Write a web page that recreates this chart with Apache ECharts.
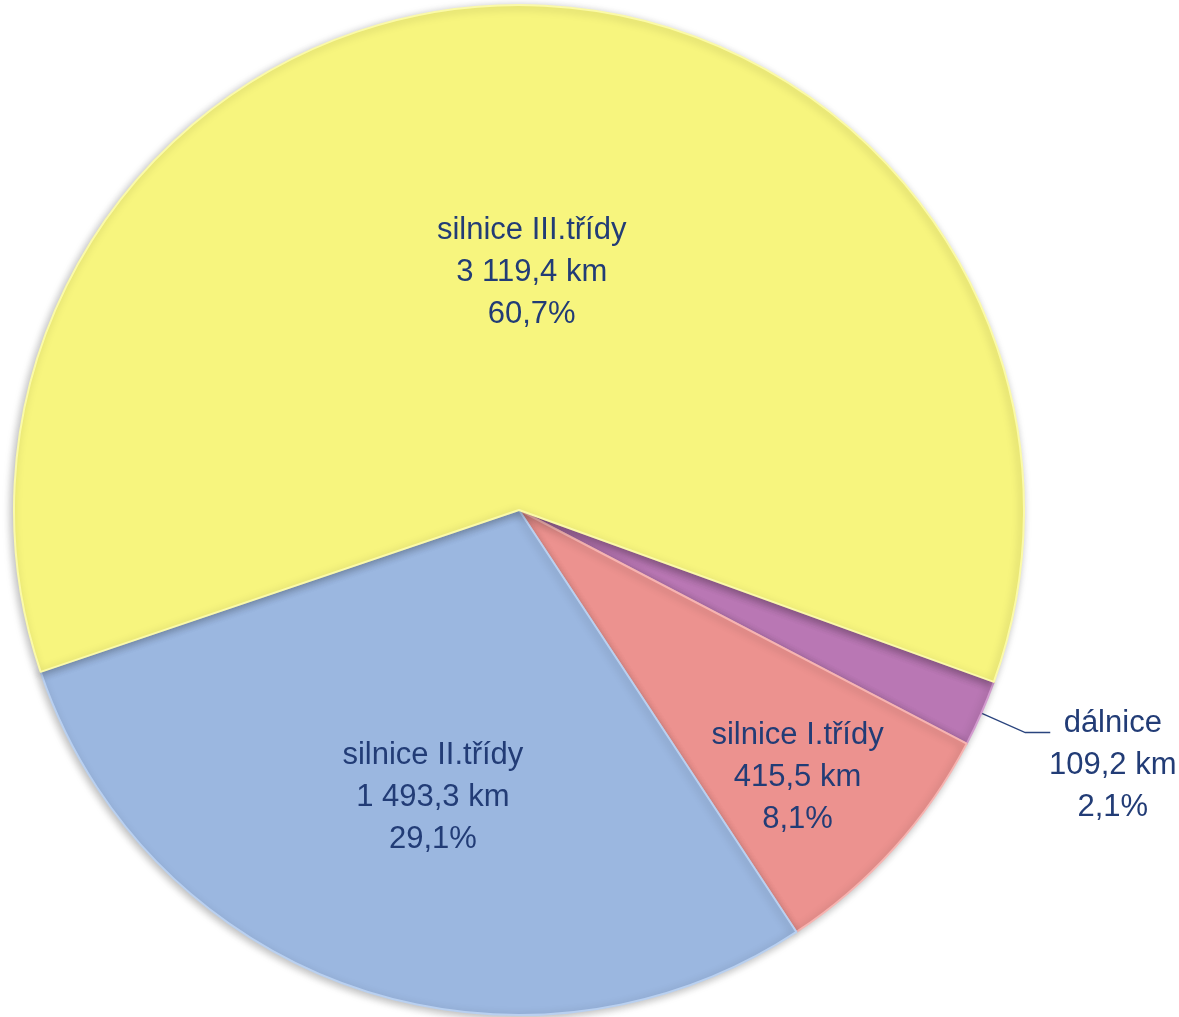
<!DOCTYPE html>
<html>
<head>
<meta charset="utf-8">
<script src="https://cdn.jsdelivr.net/npm/echarts@6/dist/echarts.min.js"></script>
<style>html,body{margin:0;padding:0;background:#fff}#c{width:1179px;height:1017px}</style>
</head>
<body>
<div id="c"></div>
<script>
const categories = ['dálnice', 'silnice I.třídy', 'silnice II.třídy', 'silnice III.třídy'];
const lengthsKm = [109.2, 415.5, 1493.3, 3119.4];
const percentLabels = ['2,1%', '8,1%', '29,1%', '60,7%'];
const kmLabels = ['109,2 km', '415,5 km', '1 493,3 km', '3 119,4 km'];

const colors = ['#B977B4', '#EC928F', '#9BB7E0', '#F7F57E'];
const borders = ['#D39BCF', '#F7B4B1', '#B9D0F0', '#FBFAA8'];
const labelShift = [[0, 0], [89, 96], [-3, 46], [10, 18]];

const FONT = '"Liberation Sans", Arial, sans-serif';
const FS = 31;
const TXT = '#223C76';

const chart = echarts.init(document.getElementById('c'), null, {renderer: 'canvas'});
const data = categories.map((name, i) => {
  const item = {
    name: name,
    value: lengthsKm[i],
    itemStyle: {color: colors[i], borderColor: borders[i]}
  };
  if (i === 0) {
    item.label = {
      position: 'outside',
      formatter: () => '{a|' + name + '}\n{a|' + kmLabels[i] + '}\n{a|' + percentLabels[i] + '}',
      padding: [66, 0, 0, 0],
      distanceToLabelLine: 0,
      rich: {a: {width: 125, align: 'center', fontSize: FS, lineHeight: 42, color: TXT, fontFamily: FONT}}
    };
    item.labelLine = {show: true, length: 48, length2: 25, lineStyle: {color: '#2A447E', width: 1.3}};
  }
  return item;
});

chart.setOption({
  animation: false,
  series: [{
    type: 'pie',
    center: [519, 510],
    radius: [0, 505],
    startAngle: -19.9,
    clockwise: true,
    avoidLabelOverlap: false,
    data: data,
    itemStyle: {
      borderWidth: 2,
      shadowBlur: 8,
      shadowColor: 'rgba(0,0,0,0.28)',
      shadowOffsetX: -2,
      shadowOffsetY: 2
    },
    label: {
      show: true,
      position: 'inside',
      formatter: p => p.name + '\n' + kmLabels[p.dataIndex] + '\n' + percentLabels[p.dataIndex],
      fontSize: FS,
      lineHeight: 42,
      color: TXT,
      fontFamily: FONT,
      align: 'center'
    },
    labelLine: {show: false},
    labelLayout: p => {
      const s = labelShift[p.dataIndex];
      if (p.dataIndex === 0) return {};
      return {dx: s[0], dy: s[1]};
    },
    emphasis: {disabled: true}
  }]
});
</script>
</body>
</html>
